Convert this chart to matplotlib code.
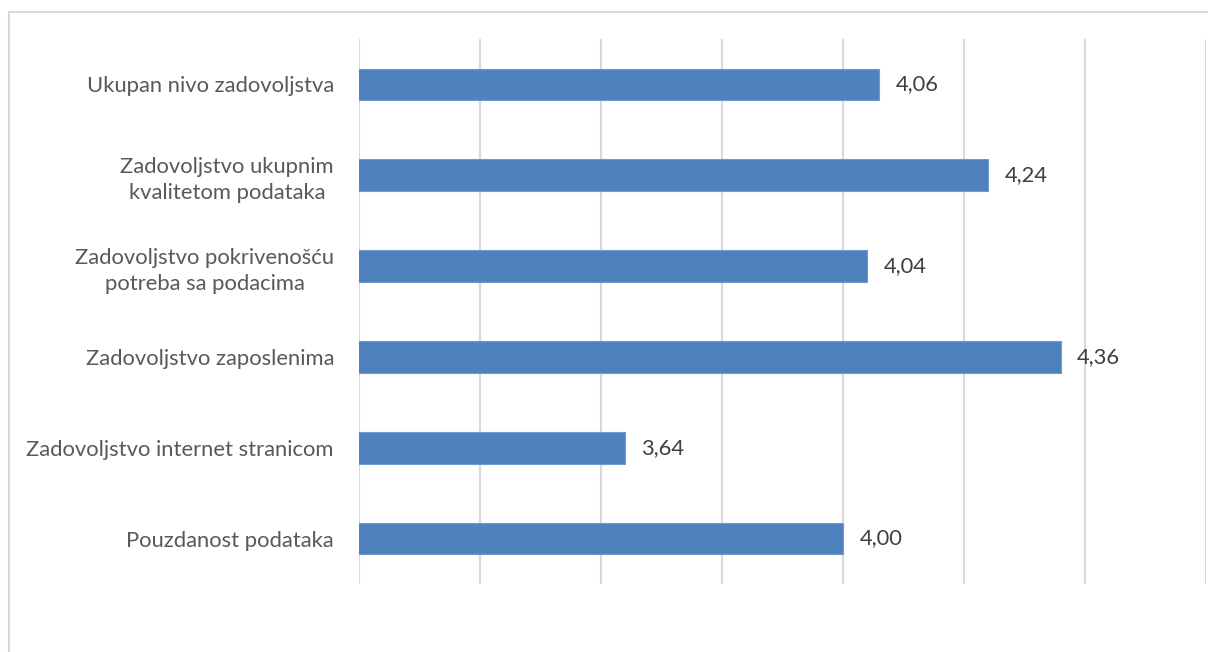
import matplotlib.pyplot as plt
import numpy as np
from matplotlib.patches import Rectangle

plt.rcParams['font.family'] = ['Lato', 'DejaVu Sans']

categories = ["Pouzdanost podataka",
              "Zadovoljstvo internet stranicom",
              "Zadovoljstvo zaposlenima",
              "Zadovoljstvo pokrivenošću\npotreba sa podacima",
              "Zadovoljstvo ukupnim\nkvalitetom podataka",
              "Ukupan nivo zadovoljstva"]
values = [4.00, 3.64, 4.36, 4.04, 4.24, 4.06]
grid_ticks = [3.2, 3.4, 3.6, 3.8, 4.0, 4.2, 4.4, 4.6]

fig = plt.figure(figsize=(12.08, 6.52), dpi=100, facecolor='w')
ax = fig.add_axes([359/1208, 1-584/652, (1206-359)/1208, (584-39)/652])

y = np.arange(len(categories))
ax.barh(y, values, height=0.35, left=0, color='#4F81BD', edgecolor='#6F9BD1', linewidth=0.8, zorder=3)

for yi, v in zip(y, values):
    ax.text(v + 0.027, yi, ('%.2f' % v).replace('.', ','), va='center', ha='left',
            fontsize=15.8, color='#404040')

ax.set_xlim(3.2, 4.6)
ax.set_ylim(-0.5, len(categories) - 0.5)
ax.set_xticks(grid_ticks)
ax.set_xticklabels([])
ax.set_yticks(y)
ax.set_yticklabels(categories, fontsize=15.8, color='#595959', multialignment='center')
for lbl in ax.get_yticklabels():
    lbl.set_linespacing(1.35)
ax.tick_params(axis='both', length=0)
ax.tick_params(axis='y', pad=18)
ax.grid(axis='x', color='#D9D9D9', linewidth=1.5, zorder=0)
for s in ax.spines.values():
    s.set_visible(False)

# chart area border, only left and top edges fall inside the image
fig.patches.append(Rectangle((9/1208, -0.2), 1.2, 1.2 - 12/652, transform=fig.transFigure,
                             fill=False, edgecolor='#D9D9D9', linewidth=1.5))

plt.savefig('out.png', dpi=100, facecolor='w')
